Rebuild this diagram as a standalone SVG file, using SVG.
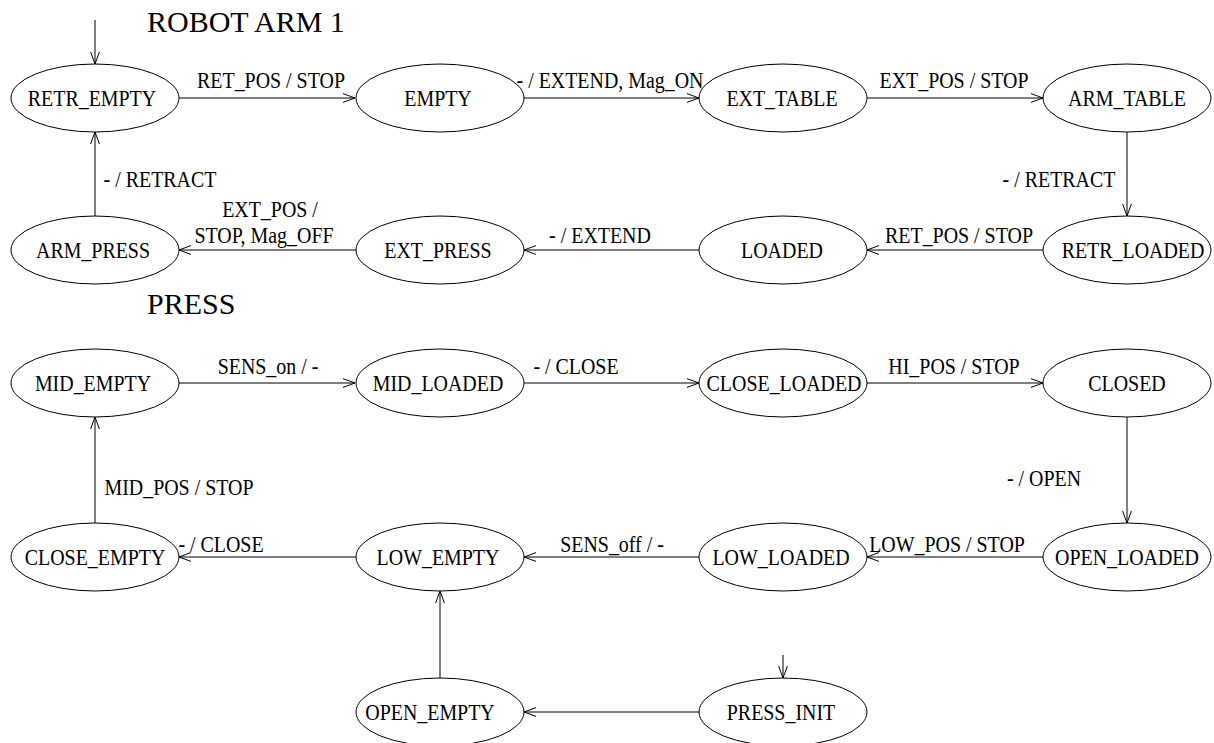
<svg xmlns="http://www.w3.org/2000/svg" width="1214" height="743" viewBox="0 0 1214 743">
  <style>
    .st ellipse { fill: #fff; stroke: #000; stroke-width: 1; }
    .st text, .lbl { font-family: "Liberation Serif", "Times New Roman", serif; font-size: 24px; fill: #000; text-anchor: middle; }
    .title { font-family: "Liberation Serif", "Times New Roman", serif; font-size: 30px; fill: #000; }
    .edges line { stroke: #000; stroke-width: 1; fill: none; marker-end: url(#arr); }
  </style>
  <defs>
    <marker id="arr" viewBox="0 0 12 10" refX="12" refY="5" markerWidth="12" markerHeight="10" markerUnits="userSpaceOnUse" orient="auto">
      <path d="M0,0.6 L12,5 L0,9.4" fill="none" stroke="#000" stroke-width="1"/>
    </marker>
  </defs>
  <rect width="1214" height="743" fill="#fff"/>

  <text class="title" x="147" y="32">ROBOT ARM 1</text>
  <text class="title" x="147" y="314">PRESS</text>

  <!-- transitions -->
  <g id="transitions" class="edges">
    <!-- robot arm -->
    <line x1="95" y1="20" x2="95" y2="64"/>
    <line x1="179" y1="98" x2="355" y2="98"/>
    <line x1="524" y1="98" x2="699" y2="98"/>
    <line x1="867" y1="98" x2="1043" y2="98"/>
    <line x1="1127" y1="132" x2="1127" y2="216"/>
    <line x1="1043" y1="250" x2="867" y2="250"/>
    <line x1="699" y1="250" x2="524" y2="250"/>
    <line x1="356" y1="250" x2="179" y2="250"/>
    <line x1="95" y1="216" x2="95" y2="132"/>
    <!-- press -->
    <line x1="179" y1="383" x2="355" y2="383"/>
    <line x1="524" y1="383" x2="699" y2="383"/>
    <line x1="867" y1="383" x2="1043" y2="383"/>
    <line x1="1127" y1="417" x2="1127" y2="523"/>
    <line x1="1043" y1="557" x2="867" y2="557"/>
    <line x1="699" y1="557" x2="524" y2="557"/>
    <line x1="356" y1="557" x2="179" y2="557"/>
    <line x1="95" y1="523" x2="95" y2="417"/>
    <line x1="440" y1="678" x2="440" y2="591"/>
    <line x1="699" y1="712" x2="524" y2="712"/>
    <line x1="783" y1="655" x2="783" y2="678"/>
  </g>

  <!-- transition labels (Times, narrowed) -->
  <g id="labels">
    <text class="lbl" transform="matrix(0.83 0 0 1 271 88)">RET_POS / STOP</text>
    <text class="lbl" transform="matrix(0.83 0 0 1 610 88)">- / EXTEND, Mag_ON</text>
    <text class="lbl" transform="matrix(0.83 0 0 1 954 88)">EXT_POS / STOP</text>
    <text class="lbl" transform="matrix(0.83 0 0 1 1059 187)">- / RETRACT</text>
    <text class="lbl" transform="matrix(0.83 0 0 1 959 243)">RET_POS / STOP</text>
    <text class="lbl" transform="matrix(0.83 0 0 1 600 243)">- / EXTEND</text>
    <text class="lbl" transform="matrix(0.83 0 0 1 270 217)">EXT_POS /</text>
    <text class="lbl" transform="matrix(0.83 0 0 1 264 243)">STOP, Mag_OFF</text>
    <text class="lbl" transform="matrix(0.83 0 0 1 160 187)">- / RETRACT</text>

    <text class="lbl" transform="matrix(0.83 0 0 1 268 374)">SENS_on / -</text>
    <text class="lbl" transform="matrix(0.83 0 0 1 576 374)">- / CLOSE</text>
    <text class="lbl" transform="matrix(0.83 0 0 1 954 374)">HI_POS / STOP</text>
    <text class="lbl" transform="matrix(0.83 0 0 1 1044 486)">- / OPEN</text>
    <text class="lbl" transform="matrix(0.83 0 0 1 947 552)">LOW_POS / STOP</text>
    <text class="lbl" transform="matrix(0.83 0 0 1 612 552)">SENS_off / -</text>
    <text class="lbl" transform="matrix(0.83 0 0 1 221 552)">- / CLOSE</text>
    <text class="lbl" transform="matrix(0.83 0 0 1 179 495)">MID_POS / STOP</text>
  </g>

  <!-- robot arm states -->
  <g id="retr_empty" class="st"><ellipse cx="95" cy="98" rx="84" ry="34"/><text transform="matrix(0.83 0 0 1 92 106)">RETR_EMPTY</text></g>
  <g id="empty" class="st"><ellipse cx="440" cy="98" rx="84" ry="34"/><text transform="matrix(0.83 0 0 1 438 106)">EMPTY</text></g>
  <g id="ext_table" class="st"><ellipse cx="783" cy="98" rx="84" ry="34"/><text transform="matrix(0.83 0 0 1 782 106)">EXT_TABLE</text></g>
  <g id="arm_table" class="st"><ellipse cx="1127" cy="98" rx="84" ry="34"/><text transform="matrix(0.83 0 0 1 1127 106)">ARM_TABLE</text></g>
  <g id="arm_press" class="st"><ellipse cx="95" cy="250" rx="84" ry="34"/><text transform="matrix(0.83 0 0 1 93 258)">ARM_PRESS</text></g>
  <g id="ext_press" class="st"><ellipse cx="440" cy="250" rx="84" ry="34"/><text transform="matrix(0.83 0 0 1 438 258)">EXT_PRESS</text></g>
  <g id="loaded" class="st"><ellipse cx="783" cy="250" rx="84" ry="34"/><text transform="matrix(0.83 0 0 1 782 258)">LOADED</text></g>
  <g id="retr_loaded" class="st"><ellipse cx="1127" cy="250" rx="84" ry="34"/><text transform="matrix(0.83 0 0 1 1133 258)">RETR_LOADED</text></g>

  <!-- press states -->
  <g id="mid_empty" class="st"><ellipse cx="95" cy="383" rx="84" ry="34"/><text transform="matrix(0.83 0 0 1 93 391)">MID_EMPTY</text></g>
  <g id="mid_loaded" class="st"><ellipse cx="440" cy="383" rx="84" ry="34"/><text transform="matrix(0.83 0 0 1 438 391)">MID_LOADED</text></g>
  <g id="close_loaded" class="st"><ellipse cx="783" cy="383" rx="84" ry="34"/><text transform="matrix(0.83 0 0 1 784 391)">CLOSE_LOADED</text></g>
  <g id="closed" class="st"><ellipse cx="1127" cy="383" rx="84" ry="34"/><text transform="matrix(0.83 0 0 1 1127 391)">CLOSED</text></g>
  <g id="close_empty" class="st"><ellipse cx="95" cy="557" rx="84" ry="34"/><text transform="matrix(0.83 0 0 1 95 565)">CLOSE_EMPTY</text></g>
  <g id="low_empty" class="st"><ellipse cx="440" cy="557" rx="84" ry="34"/><text transform="matrix(0.83 0 0 1 438 565)">LOW_EMPTY</text></g>
  <g id="low_loaded" class="st"><ellipse cx="783" cy="557" rx="84" ry="34"/><text transform="matrix(0.83 0 0 1 781 565)">LOW_LOADED</text></g>
  <g id="open_loaded" class="st"><ellipse cx="1127" cy="557" rx="84" ry="34"/><text transform="matrix(0.83 0 0 1 1127 565)">OPEN_LOADED</text></g>
  <g id="open_empty" class="st"><ellipse cx="440" cy="712" rx="84" ry="34"/><text transform="matrix(0.83 0 0 1 430 720)">OPEN_EMPTY</text></g>
  <g id="press_init" class="st"><ellipse cx="783" cy="712" rx="84" ry="34"/><text transform="matrix(0.83 0 0 1 781 720)">PRESS_INIT</text></g>
</svg>
